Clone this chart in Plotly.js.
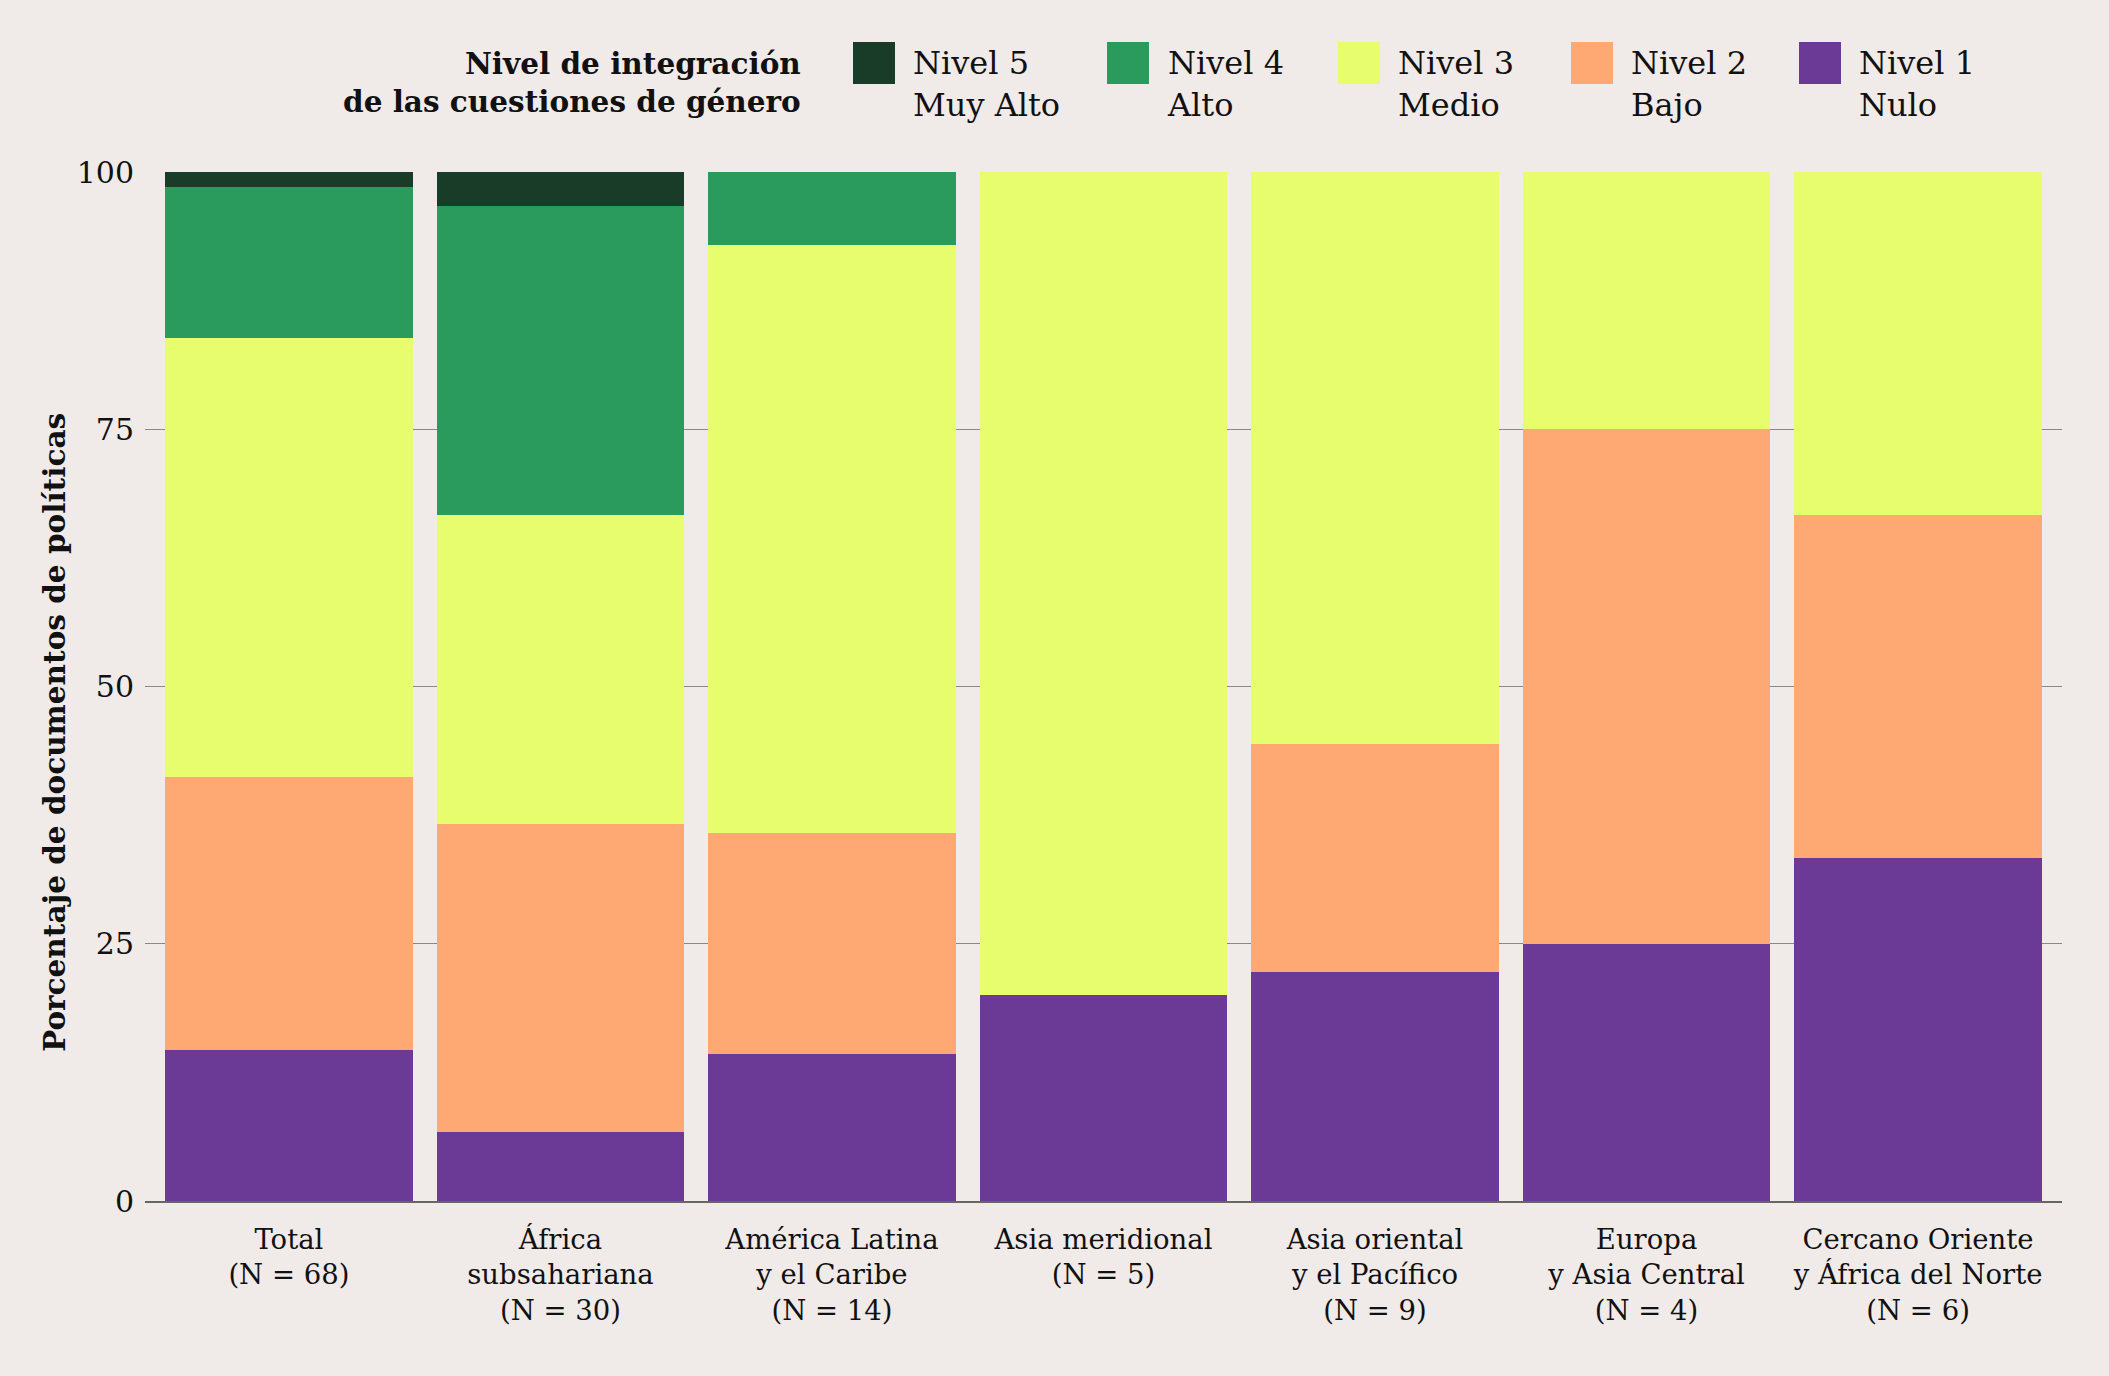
<!DOCTYPE html>
<html>
<head>
<meta charset="utf-8">
<script src="https://cdn.plot.ly/plotly-3.0.1.min.js"></script>
<style>
  html, body { margin: 0; padding: 0; background: #f0ebe9; }
  #chart { width: 2109px; height: 1376px; }
</style>
</head>
<body>
<div id="chart"></div>
<script>
// ---- Data (percent of policy documents) ----
const categories = [
  "Total<br>(N = 68)",
  "África<br>subsahariana<br>(N = 30)",
  "América Latina<br>y el Caribe<br>(N = 14)",
  "Asia meridional<br>(N = 5)",
  "Asia oriental<br>y el Pacífico<br>(N = 9)",
  "Europa<br>y Asia Central<br>(N = 4)",
  "Cercano Oriente<br>y África del Norte<br>(N = 6)"
];
const nivel1 = [14.71, 6.67, 14.29, 20.0, 22.22, 25.0, 33.34];
const nivel2 = [26.47, 30.0, 21.43, 0, 22.22, 50.0, 33.33];
const nivel3 = [42.65, 30.0, 57.14, 80.0, 55.56, 25.0, 33.33];
const nivel4 = [14.70, 30.0, 7.14, 0, 0, 0, 0];
const nivel5 = [1.47, 3.33, 0, 0, 0, 0, 0];

const seriesNames = ["Nivel 1", "Nivel 2", "Nivel 3", "Nivel 4", "Nivel 5"];
const seriesSub = ["Nulo", "Bajo", "Medio", "Alto", "Muy Alto"];
const seriesValues = [nivel1, nivel2, nivel3, nivel4, nivel5];
const yTicks = [0, 25, 50, 75, 100];

// ---- Styles ----
const colors = ["#6a3a96", "#fea873", "#e8fd6e", "#2a9b5c", "#193c29"];
const FONT = "DejaVu Serif, Liberation Serif, serif";
const BG = "#f0ebe9";

const traces = seriesValues.map((vals, i) => ({
  type: "bar",
  name: seriesNames[i],
  x: categories,
  y: vals,
  marker: { color: colors[i], line: { width: 0 } },
  hoverinfo: "x+y+name",
  showlegend: false
}));

// layout geometry in px
const W = 2109, H = 1376;
const M = { l: 145, r: 47, t: 172, b: 175 };
const PW = W - M.l - M.r, PH = H - M.t - M.b;
const px = x => (x - M.l) / PW;
const py = y => (H - M.b - y) / PH;

const annotations = [];
const shapes = [];

// legend title
annotations.push({
  xref: "paper", yref: "paper", x: px(803), y: py(83),
  xanchor: "right", yanchor: "middle", align: "right",
  text: "<b>Nivel de integración<br>de las cuestiones de género</b>",
  showarrow: false, font: { family: FONT, size: 29.5, color: "#111" }
});
// legend items, highest level first
const legendX = [853, 1107, 1338, 1571, 1799];
for (let k = 0; k < 5; k++) {
  const i = 4 - k;
  const x0 = legendX[k];
  shapes.push({
    type: "rect", xref: "paper", yref: "paper",
    x0: px(x0), x1: px(x0 + 42), y0: py(84), y1: py(42),
    fillcolor: colors[i], line: { width: 0 }, layer: "above"
  });
  annotations.push({
    xref: "paper", yref: "paper", x: px(x0 + 58), y: py(84),
    xanchor: "left", yanchor: "middle", align: "left",
    text: seriesNames[i] + "<br>" + seriesSub[i],
    showarrow: false, font: { family: FONT, size: 32, color: "#111" }
  });
}
// y axis title
annotations.push({
  xref: "paper", yref: "paper", x: px(54), y: py(733),
  xanchor: "center", yanchor: "middle", textangle: -90,
  text: "<b>Porcentaje de documentos de políticas</b>",
  showarrow: false, font: { family: FONT, size: 29.5, color: "#111" }
});

const layout = {
  width: W, height: H,
  margin: M,
  paper_bgcolor: BG, plot_bgcolor: BG,
  barmode: "stack",
  bargap: 0.089,
  font: { family: FONT, color: "#111" },
  xaxis: {
    type: "category",
    range: [-0.53, 6.53],
    showgrid: false, zeroline: false,
    showline: true, linecolor: "#666", linewidth: 1.5,
    ticks: "", ticklabelstandoff: 13,
    tickfont: { family: FONT, size: 27.5, color: "#111" }
  },
  yaxis: {
    range: [0, 100],
    tickvals: yTicks,
    ticktext: yTicks.map(String),
    showgrid: true, gridcolor: "#888", gridwidth: 1.2,
    zeroline: false, showline: false,
    ticks: "", ticklabelstandoff: 10,
    tickfont: { family: FONT, size: 30, color: "#111" }
  },
  annotations: annotations,
  shapes: shapes
};

Plotly.newPlot("chart", traces, layout, { displayModeBar: false, staticPlot: true });
</script>
</body>
</html>
